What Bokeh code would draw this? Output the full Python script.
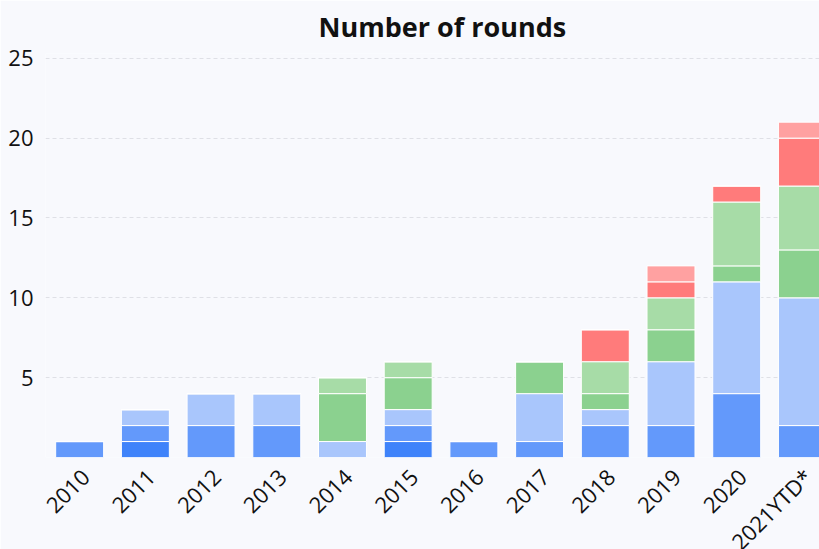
import math
from bokeh.plotting import figure
from bokeh.models import Range1d, FixedTicker, ColumnDataSource
from bokeh.embed import file_html
from bokeh.resources import INLINE

try:
    from bokeh.models import GlobalInlineStyleSheet
    sheets = [GlobalInlineStyleSheet(css="html, body { overflow: hidden; }")]
except Exception:
    sheets = []

years = ["2010", "2011", "2012", "2013", "2014", "2015", "2016", "2017",
         "2018", "2019", "2020", "2021YTD*"]
series_a = [0, 1, 0, 0, 0, 1, 0, 0, 0, 0, 0, 0]
series_b = [1, 1, 2, 2, 0, 1, 1, 1, 2, 2, 4, 2]
series_c = [0, 1, 2, 2, 1, 1, 0, 3, 1, 4, 7, 8]
series_d = [0, 0, 0, 0, 3, 2, 0, 2, 1, 2, 1, 3]
series_e = [0, 0, 0, 0, 1, 1, 0, 0, 2, 2, 4, 4]
series_f = [0, 0, 0, 0, 0, 0, 0, 0, 2, 1, 1, 3]
series_g = [0, 0, 0, 0, 0, 0, 0, 0, 0, 1, 0, 1]

names = ["a", "b", "c", "d", "e", "f", "g"]
colors = ["#3f83fa", "#6399fb", "#a9c6fc", "#8bd18f", "#a7dca7", "#ff7b7b", "#ffa1a1"]

idx = list(range(len(years)))
src = ColumnDataSource(dict(x=idx, a=series_a, b=series_b, c=series_c, d=series_d,
                            e=series_e, f=series_f, g=series_g))

BG = "#f8f9fd"
p = figure(frame_width=774, frame_height=404, output_backend="svg",
           toolbar_location=None,
           x_range=Range1d(-0.52, 11.26), y_range=Range1d(0, 25.3),
           title="Number of rounds", min_border_left=45, min_border_right=0,
           min_border_top=52, min_border_bottom=93)
if sheets:
    p.stylesheets = sheets
p.background_fill_color = BG
p.border_fill_color = BG
p.outline_line_color = None

p.vbar_stack(names, x="x", width=0.73, source=src, color=colors,
             line_color="white", line_width=1)

p.title.align = "left"
p.title.offset = 273
p.title.standoff = 14
p.title.vertical_align = "top"
p.title.text_line_height = 0.8
p.title.text_font = "Open Sans"
p.title.text_font_size = "27px"
p.title.text_font_style = "bold"
p.title.text_color = "#111111"

# tick label anchors nudged slightly right of bar centres, as in the reference
tick_pos = [round(i + 0.08, 2) for i in idx]
p.xaxis.ticker = FixedTicker(ticks=tick_pos)
p.xaxis.major_label_overrides = {t: y for t, y in zip(tick_pos, years)}
p.xaxis.major_label_orientation = math.pi / 4
p.yaxis.ticker = FixedTicker(ticks=[0, 5, 10, 15, 20, 25])
p.yaxis.major_label_overrides = {0: ""}
for ax in (p.xaxis, p.yaxis):
    ax.axis_line_color = None
    ax.major_tick_line_color = None
    ax.minor_tick_line_color = None
    ax.major_label_text_font = "Open Sans"
    ax.major_label_text_font_size = "22px"
    ax.major_label_text_color = "#111111"
p.yaxis.major_label_standoff = 6
p.xaxis.major_label_standoff = 9

p.xgrid.grid_line_color = None
p.ygrid.grid_line_color = "#dfe0e6"
p.ygrid.grid_line_dash = "4 3"
p.ygrid.grid_line_width = 1

open("out.html", "w").write(file_html(p, INLINE))
